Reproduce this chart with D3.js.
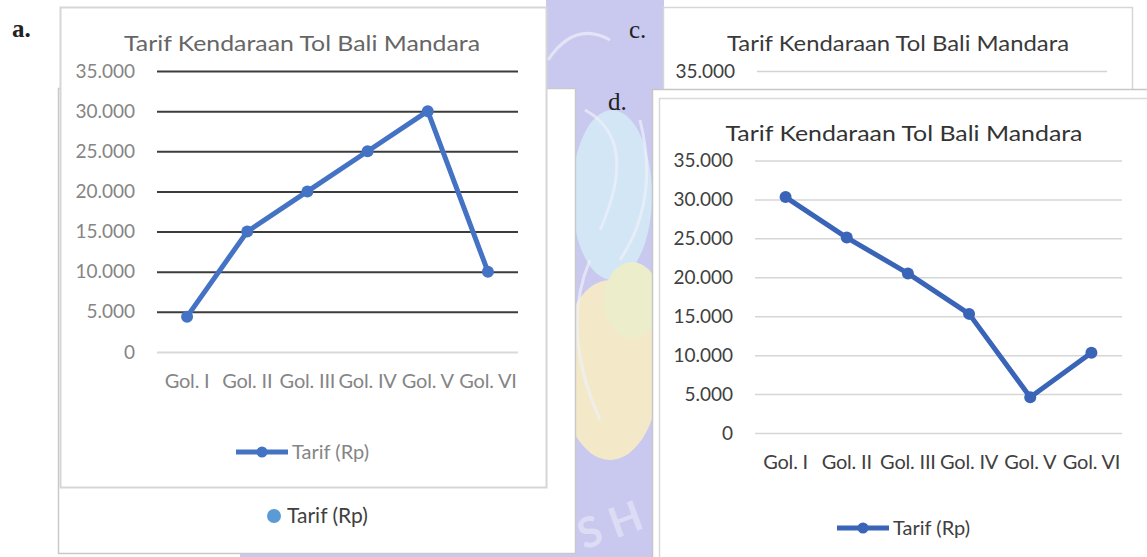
<!DOCTYPE html>
<html>
<head>
<meta charset="utf-8">
<script src="https://cdn.jsdelivr.net/npm/d3@7"></script>
<style>
  body { margin: 0; background: #fff; }
  svg { display: block; }
  text { font-family: Lato, "Open Sans", sans-serif; }
</style>
</head>
<body>
<svg id="page" width="1147" height="557"></svg>
<script>
const categories = ["Gol. I", "Gol. II", "Gol. III", "Gol. IV", "Gol. V", "Gol. VI"]
const tarifA = [4400, 15000, 20000, 25000, 30000, 10000]
const tarifD = [30300, 25100, 20500, 15300, 4600, 10300]
const yTicks = [0, 5000, 10000, 15000, 20000, 25000, 30000, 35000]
const chartTitle = "Tarif Kendaraan Tol Bali Mandara"
const seriesName = "Tarif (Rp)"

const idFormat = d3.formatLocale({decimal: ",", thousands: ".", grouping: [3], currency: ["Rp", ""]}).format(",")

const svg = d3.select("#page")

// faint logo watermark behind the pasted screenshots
const clip = svg.append("defs").append("clipPath").attr("id", "wm-clip")
clip.append("rect").attr("x", 546).attr("y", 0).attr("width", 118).attr("height", 557)
clip.append("rect").attr("x", 240).attr("y", 553).attr("width", 420).attr("height", 4)

const wm = svg.append("g").attr("clip-path", "url(#wm-clip)")
wm.append("rect").attr("x", 0).attr("y", 0).attr("width", 1147).attr("height", 557).attr("fill", "#c9c9ef")
wm.append("ellipse").attr("cx", 612).attr("cy", 195).attr("rx", 40).attr("ry", 85).attr("fill", "#d3e6f6")
wm.append("ellipse").attr("cx", 610).attr("cy", 370).attr("rx", 50).attr("ry", 90).attr("fill", "#f3e9c8")
wm.append("ellipse").attr("cx", 632).attr("cy", 300).attr("rx", 28).attr("ry", 38).attr("fill", "#eceecb")
wm.append("ellipse").attr("cx", 330).attr("cy", 600).attr("rx", 30).attr("ry", 30).attr("fill", "#f3c98a")
wm.append("path")
    .attr("d", "M548,60 Q575,20 610,40 M585,110 Q640,140 600,230 M640,120 Q660,200 620,260 M590,260 Q560,330 600,420")
    .attr("fill", "none").attr("stroke", "#eef0fa").attr("stroke-width", 3).attr("opacity", 0.7)
wm.append("text").attr("x", 584).attr("y", 550).attr("transform", "rotate(-20,584,550)")
    .attr("font-family", "DejaVu Serif").attr("font-weight", "bold").attr("font-size", 42)
    .attr("fill", "#dcdcf5").text("S H")

function drawPanel(g, o) {
    const x = d3.scaleBand().domain(categories).range([o.left, o.right])
    const y = d3.scaleLinear().domain([0, 35000]).range([o.bottom, o.top])
    const ticks = o.visibleBelow ? yTicks.filter(t => y(t) < o.visibleBelow) : yTicks

    const grid = g.append("g")
        .attr("transform", `translate(${o.left},0)`)
        .call(d3.axisLeft(y).tickValues(ticks).tickFormat(idFormat)
            .tickSize(-(o.right - o.left)).tickPadding(o.left - o.labelRight))
    grid.select(".domain").remove()
    grid.selectAll(".tick line")
        .attr("stroke", d => d === 0 ? o.zeroColor : o.gridColor)
        .attr("stroke-width", o.gridWidth)
    grid.selectAll(".tick text")
        .attr("fill", o.tickColor)
        .style("font-size", "19px")
        .style("font-family", "Lato, sans-serif")

    if (!o.data) return

    const xa = g.append("g")
        .attr("transform", `translate(0,${o.xLabelY})`)
        .call(d3.axisBottom(x).tickSize(0))
    xa.select(".domain").remove()
    xa.selectAll(".tick text")
        .attr("y", 0).attr("dy", "0.35em")
        .attr("fill", o.tickColor)
        .style("font-size", "20px")
        .style("letter-spacing", "-0.2px")
        .style("font-family", "Lato, sans-serif")

    const pts = categories.map((c, i) => [x(c) + x.bandwidth() / 2, y(o.data[i])])
    g.append("path")
        .attr("d", d3.line()(pts))
        .attr("fill", "none")
        .attr("stroke", o.lineColor)
        .attr("stroke-width", 5)
        .attr("stroke-linejoin", "round")
    g.selectAll(".pt").data(pts).join("circle")
        .attr("class", "pt")
        .attr("cx", d => d[0]).attr("cy", d => d[1]).attr("r", 6)
        .attr("fill", o.lineColor)

    // legend
    g.append("line")
        .attr("x1", o.legX).attr("x2", o.legX + 52)
        .attr("y1", o.legY).attr("y2", o.legY)
        .attr("stroke", o.lineColor).attr("stroke-width", 5)
    g.append("circle").attr("cx", o.legX + 26).attr("cy", o.legY).attr("r", 5.5).attr("fill", o.lineColor)
    g.append("text")
        .attr("x", o.legX + 56).attr("y", o.legY).attr("dy", "0.35em")
        .attr("fill", o.tickColor)
        .style("font-size", "20px")
        .text(seriesName)
}

function addTitle(g, cx, cy, w, color) {
    g.append("text")
        .attr("x", cx).attr("y", cy).attr("dy", "0.35em")
        .attr("text-anchor", "middle")
        .attr("textLength", w).attr("lengthAdjust", "spacingAndGlyphs")
        .attr("fill", color)
        .style("font-size", "22px")
        .text(chartTitle)
}

// box b (hidden under a), only its legend shows
svg.append("rect").attr("x", 58.5).attr("y", 88.5).attr("width", 517).attr("height", 465)
    .attr("fill", "#fff").attr("stroke", "#c9c9c9").attr("stroke-width", 1.5)
svg.append("circle").attr("cx", 274).attr("cy", 516).attr("r", 7).attr("fill", "#5b9bd5")
svg.append("text").attr("x", 287).attr("y", 516).attr("dy", "0.35em")
    .attr("fill", "#404040").style("font-size", "21px").text(seriesName)

// panel a
const ga = svg.append("g")
ga.append("rect").attr("x", 60.5).attr("y", 7.5).attr("width", 486).attr("height", 480)
    .attr("fill", "#fff").attr("stroke", "#d6d6d6").attr("stroke-width", 2)
addTitle(ga, 302, 43, 356, "#666666")
drawPanel(ga, {
    left: 157, right: 518, top: 71, bottom: 352, labelRight: 135, xLabelY: 381,
    data: tarifA, lineColor: "#4472c4",
    gridColor: "#3c3c3c", zeroColor: "#d9d9d9", gridWidth: 2, tickColor: "#858585",
    legX: 236, legY: 452
})

// panel c, mostly covered by d: only the ticks above d's box are drawn
const gc = svg.append("g")
gc.append("rect").attr("x", 663.5).attr("y", 7.5).attr("width", 469).attr("height", 120)
    .attr("fill", "#fff").attr("stroke", "#d6d6d6").attr("stroke-width", 1.5)
addTitle(gc, 898, 43, 342, "#3a3a3a")
drawPanel(gc, {
    left: 757, right: 1107, top: 71, bottom: 343, labelRight: 735, visibleBelow: 89,
    data: null, gridColor: "#d4d4d4", zeroColor: "#d4d4d4", gridWidth: 1.5, tickColor: "#404040"
})

// panel d
const gd = svg.append("g")
gd.append("rect").attr("x", 652.5).attr("y", 89.5).attr("width", 520).attr("height", 480)
    .attr("fill", "#fff").attr("stroke", "#c6c6c6").attr("stroke-width", 1.5)
gd.append("rect").attr("x", 659.5).attr("y", 98.5).attr("width", 510).attr("height", 470)
    .attr("fill", "#fff").attr("stroke", "#dadada").attr("stroke-width", 1.5)
addTitle(gd, 904, 133, 357, "#333333")
drawPanel(gd, {
    left: 755, right: 1122, top: 160.5, bottom: 433, labelRight: 733, xLabelY: 462,
    data: tarifD, lineColor: "#3a64b7",
    gridColor: "#d6d6d6", zeroColor: "#d6d6d6", gridWidth: 1.5, tickColor: "#404040",
    legX: 837, legY: 528
})

// figure letters
const letters = [["a.", 12, 37, "bold"], ["c.", 629, 38, "normal"], ["d.", 608, 110, "normal"]]
svg.selectAll(".letter").data(letters).join("text")
    .attr("class", "letter")
    .attr("x", d => d[1]).attr("y", d => d[2])
    .attr("font-weight", d => d[3])
    .style("font-family", "'Liberation Serif', serif")
    .style("font-size", "25px")
    .attr("fill", "#222")
    .text(d => d[0])
</script>
</body>
</html>
